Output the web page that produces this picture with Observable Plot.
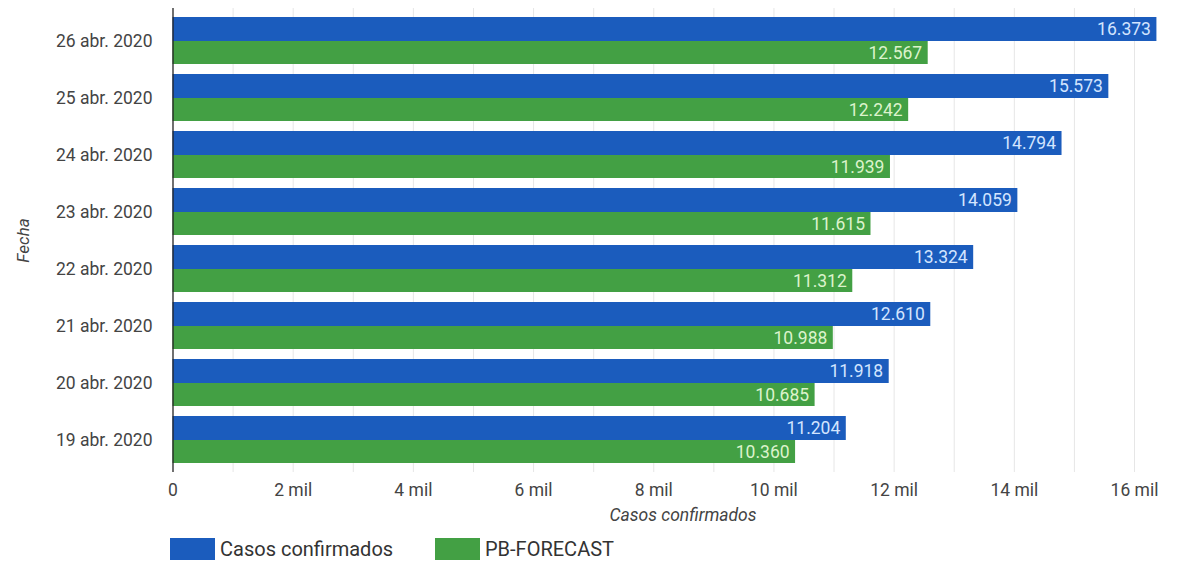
<!DOCTYPE html>
<html>
<head>
<meta charset="utf-8">
<script src="https://cdn.jsdelivr.net/npm/d3@7"></script>
<script src="https://cdn.jsdelivr.net/npm/@observablehq/plot@0.6"></script>
<style>
  body { margin: 0; background: #fff; font-family: Roboto, "Noto Sans", sans-serif; }
  #wrap { position: relative; width: 1187px; height: 561px; }
  #legend { position: absolute; left: 170px; top: 537px; display: flex; align-items: center; font-size: 20px; color: #333; }
  .sw { width: 45px; height: 22px; display: inline-block; margin-right: 5px; }
  .item { display: flex; align-items: center; }
  .item:first-child { width: 265px; }
</style>
</head>
<body>
<div id="wrap"><div id="chart"></div><div id="legend"></div></div>
<script>
const dates = ["26 abr. 2020","25 abr. 2020","24 abr. 2020","23 abr. 2020","22 abr. 2020","21 abr. 2020","20 abr. 2020","19 abr. 2020"];
const confirmados = [16373, 15573, 14794, 14059, 13324, 12610, 11918, 11204];
const forecast = [12567, 12242, 11939, 11615, 11312, 10988, 10685, 10360];
const seriesNames = ["Casos confirmados", "PB-FORECAST"];
const seriesColors = ["#1b5cbd", "#43a044"];
const labelColors = ["#d3e5ff", "#dcf3cc"];
const xTicks = [0, 2000, 4000, 6000, 8000, 10000, 12000, 14000, 16000];
const gridValues = d3.range(1000, 17000, 1000);

const loc = d3.formatLocale({decimal: ",", thousands: ".", grouping: [3], currency: ["", "€"]});
const fmt = loc.format(",d");
const tickFmt = d => d === 0 ? "0" : (d / 1000) + " mil";

const blue = dates.map((d, i) => ({date: d, value: confirmados[i]}));
const green = dates.map((d, i) => ({date: d, value: forecast[i]}));

const chart = Plot.plot({
  width: 1187,
  height: 528,
  marginLeft: 172,
  marginRight: 0,
  marginTop: 8,
  marginBottom: 56,
  style: {fontFamily: "Roboto, sans-serif", fontSize: "17px", background: "#fff"},
  x: {domain: [0, 16000], range: [172.5, 1134]},
  y: {domain: dates, range: [14, 466], paddingInner: 0.168, paddingOuter: 0},
  marks: [
    Plot.ruleX(gridValues, {stroke: "#e6e6e6", strokeWidth: 1}),
    Plot.barX(blue, {y: "date", x: "value", fill: seriesColors[0], insetBottom: 23}),
    Plot.barX(green, {y: "date", x: "value", fill: seriesColors[1], insetTop: 24}),
    Plot.text(blue, {y: "date", x: "value", text: d => fmt(d.value), textAnchor: "end", dx: -6, dy: -12, fill: labelColors[0], fontSize: 17.5}),
    Plot.text(green, {y: "date", x: "value", text: d => fmt(d.value), textAnchor: "end", dx: -6, dy: 12, fill: labelColors[1], fontSize: 17.5}),
    Plot.ruleX([0], {stroke: "#222", strokeWidth: 1.3}),
    Plot.axisX({ticks: xTicks, tickFormat: tickFmt, tickSize: 0, tickPadding: 11, fontSize: 17.5, fill: "#444", label: null}),
    Plot.axisY({tickSize: 0, tickPadding: 20, fontSize: 17.5, fill: "#444", label: null}),
    Plot.text(["Casos confirmados"], {frameAnchor: "bottom", dy: 48, dx: 3, fontStyle: "italic", fontSize: 17.5, fill: "#444"}),
    Plot.text(["Fecha"], {frameAnchor: "left", textAnchor: "middle", dx: -149, rotate: -90, fontStyle: "italic", fontSize: 17, fill: "#444"})
  ]
});
document.getElementById("chart").appendChild(chart);

const legend = d3.select("#legend");
seriesNames.forEach((n, i) => {
  const it = legend.append("div").attr("class", "item");
  it.append("span").attr("class", "sw").style("background", seriesColors[i]);
  it.append("span").text(n);
});
</script>
</body>
</html>
